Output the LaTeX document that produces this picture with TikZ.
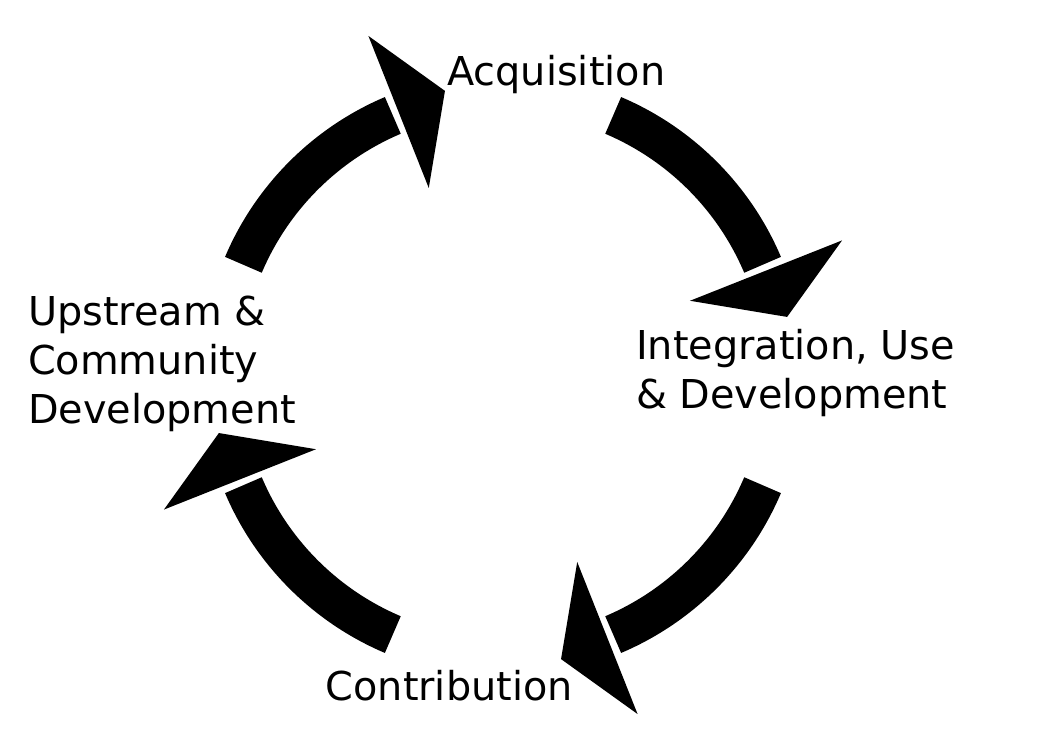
\documentclass[tikz,border=0pt]{standalone}
\usepackage{fontspec}
\setmainfont{DejaVu Sans}
\usepackage{tikz}

\begin{document}
\begin{tikzpicture}[
    stagetext/.style={anchor=base west, inner sep=0, align=left, font=\fontsize{28.3pt}{35.2pt}\selectfont},
    band/.style={line width=1cm},
  ]
    \pgfmathsetmacro{\rmid}{7.05}
    \pgfmathsetmacro{\rin}{5.03}
    \pgfmathsetmacro{\rout}{9.12}
    \pgfmathsetmacro{\rtip}{7.25}
    \useasboundingbox (-12.575, -9.25) rectangle (13.75, 9.375);
    % arcs
    \draw[style=band] (157:\rmid) arc (157:113:\rmid);
    \draw[style=band] (67:\rmid) arc (67:23:\rmid);
    \draw[style=band] (-23:\rmid) arc (-23:-67:\rmid);
    \draw[style=band] (-113:\rmid) arc (-113:-157:\rmid);
    % heads
    \fill (111.65:\rin) -- (111.65:\rout) -- (101.55:\rtip) -- cycle;
    \fill (21.65:\rin) -- (21.65:\rout) -- (11.55:\rtip) -- cycle;
    \fill (-68.35:\rin) -- (-68.35:\rout) -- (-78.45:\rtip) -- cycle;
    \fill (-158.35:\rin) -- (-158.35:\rout) -- (-168.45:\rtip) -- cycle;
    % labels (base = last line)
    \node[stagetext] (acq) at (-1.4, 7.225) {Acquisition};
    \node[stagetext] (integ) at (3.32, -0.85) {Integration, Use\\\& Development};
    \node[stagetext] (contrib) at (-4.44, -8.15) {Contribution};
    \node[stagetext] (upstream) at (-11.88, -1.225) {Upstream \&\\Community\\Development};
\end{tikzpicture}
\end{document}
